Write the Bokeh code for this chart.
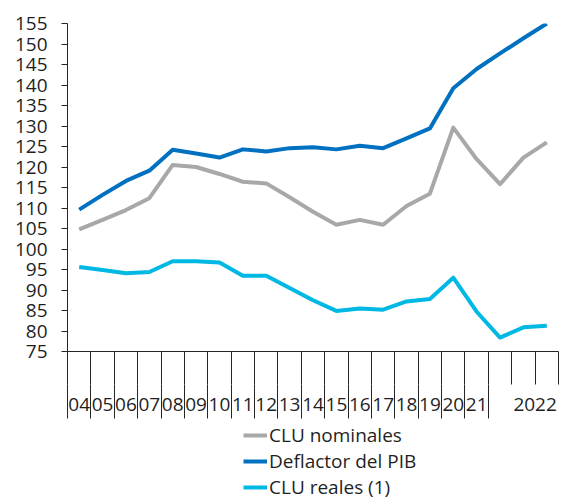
from bokeh.plotting import figure
from bokeh.layouts import column
from bokeh.models import LinearAxis, FixedTicker, Legend, LegendItem, Range1d
from bokeh.embed import file_html
from bokeh.resources import INLINE

# ---- data -------------------------------------------------------------
year_labels = ["04", "05", "06", "07", "08", "09", "10", "11", "12", "13",
               "14", "15", "16", "17", "18", "19", "20", "21"]
group_label = "2022"
clu_nominales = [104.8, 107.1, 109.5, 112.4, 120.5, 120.0, 118.3, 116.4, 116.0, 112.6,
                 109.1, 105.9, 107.1, 105.9, 110.5, 113.5, 129.6, 121.9, 115.8, 122.3, 126.0]
deflactor_pib = [109.6, 113.2, 116.6, 119.1, 124.2, 123.3, 122.3, 124.3, 123.8, 124.6,
                 124.8, 124.3, 125.2, 124.6, 127.0, 129.4, 139.2, 143.9, 147.7, 151.4, 155.0]
clu_reales = [95.6, 94.9, 94.1, 94.4, 97.0, 97.0, 96.7, 93.5, 93.5, 90.5,
              87.5, 84.9, 85.5, 85.2, 87.2, 87.8, 93.0, 84.7, 78.4, 80.9, 81.3]
series_names = ["CLU nominales", "Deflactor del PIB", "CLU reales (1)"]
y_ticks = list(range(75, 156, 5))

FONT = "Open Sans"
TXT = "#1f1f1f"
AX = "#262626"
COLORS = ["#A8A8A8", "#0070C0", "#00B8E4"]

n = len(clu_nominales)
xs = list(range(n))
all_series = [clu_nominales, deflactor_pib, clu_reales]

p = figure(width=574, height=423, output_backend="svg", toolbar_location=None,
           x_range=Range1d(-0.5, n - 0.5), y_range=Range1d(75, 155),
           x_axis_type=None, y_axis_type=None,
           min_border_left=67, min_border_right=16, min_border_top=23, min_border_bottom=72)
p.outline_line_color = None

# y axis
yax = LinearAxis(ticker=FixedTicker(ticks=y_ticks),
                 major_tick_out=6, major_tick_in=0, minor_tick_out=0, minor_tick_in=0,
                 major_label_standoff=14, axis_line_color=AX, major_tick_line_color=AX,
                 major_label_text_font=FONT, major_label_text_font_size="19px",
                 major_label_text_color=TXT)
p.add_layout(yax, "left")

# x axis part 1: short boundary ticks for every category
bounds = [i - 0.5 for i in range(n + 1)]
xax1 = LinearAxis(ticker=FixedTicker(ticks=bounds),
                  major_tick_out=33, major_tick_in=0, minor_tick_out=0, minor_tick_in=0,
                  axis_line_color=AX, major_tick_line_color=AX,
                  major_label_overrides={b: "" for b in bounds},
                  major_label_text_font_size="1px", major_label_standoff=0)
p.add_layout(xax1, "below")

# x axis part 2: long boundary ticks and the labels
label_pos = list(range(len(year_labels))) + [19.5]
overrides = {i: lab for i, lab in enumerate(year_labels)}
overrides[19.5] = group_label
xax2 = LinearAxis(ticker=FixedTicker(ticks=label_pos, minor_ticks=bounds[:len(year_labels) + 1]),
                  major_tick_out=0, major_tick_in=0, minor_tick_out=34, minor_tick_in=0,
                  axis_line_color=None, minor_tick_line_color=AX,
                  major_label_overrides=overrides, major_label_standoff=-21,
                  major_label_text_font=FONT, major_label_text_font_size="19px",
                  major_label_text_color=TXT)
p.add_layout(xax2, "below")

for vals, c in zip(all_series, COLORS):
    p.line(xs, vals, line_width=4, color=c, line_join="round")

# legend strip under the chart (its lines fall outside its ranges; only the legend shows)
pl = figure(width=574, height=77, output_backend="svg", toolbar_location=None,
            x_range=Range1d(-1, 0), y_range=Range1d(0, 1),
            x_axis_type=None, y_axis_type=None, min_border=0)
pl.outline_line_color = None
items = []
for name, vals, c in zip(series_names, all_series, COLORS):
    r = pl.line(xs, vals, line_width=4, color=c)
    items.append(LegendItem(label=name, renderers=[r]))
legend = Legend(items=items, location=(176, 0), orientation="vertical",
                border_line_color=None, background_fill_alpha=0,
                label_text_font=FONT, label_text_font_size="19px", label_text_color=TXT,
                glyph_width=24, glyph_height=20, label_height=20, label_standoff=2,
                spacing=-1, padding=0, margin=0)
pl.add_layout(legend, "center")

layout = column(p, pl, spacing=0)
open("out.html", "w").write(file_html(layout, INLINE))
